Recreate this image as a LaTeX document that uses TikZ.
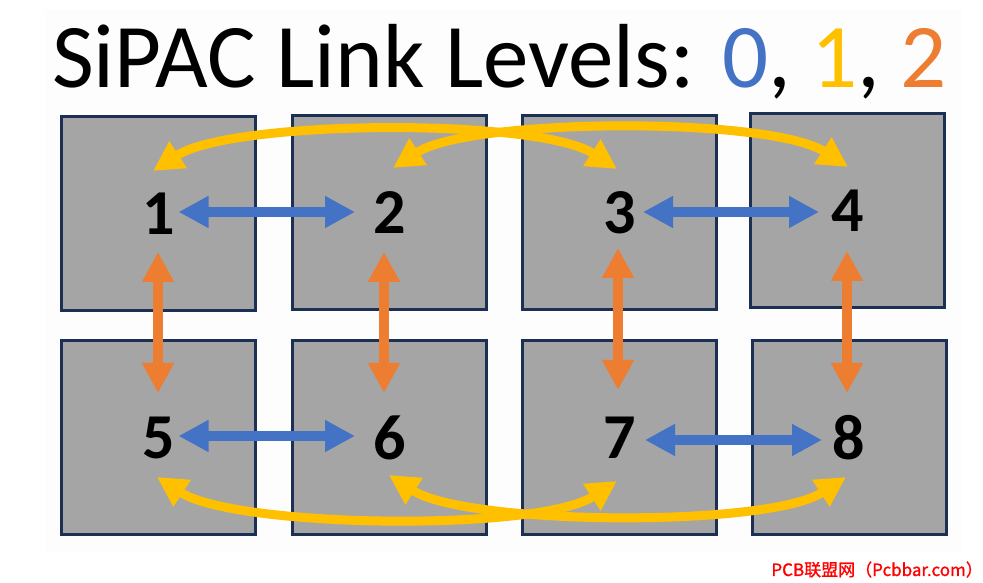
\documentclass[tikz,border=0pt]{standalone}
\usepackage{fontspec}
\setmainfont{Carlito}
\newfontfamily\cjkfont[FakeBold=1.2]{Noto Sans CJK SC}
\usetikzlibrary{arrows.meta}
\definecolor{lvlzero}{HTML}{4472C4}
\definecolor{lvlone}{HTML}{FFC000}
\definecolor{lvltwo}{HTML}{ED7D31}
\definecolor{chipedge}{HTML}{1C2F55}
\definecolor{chipfill}{HTML}{A5A5A5}
\definecolor{slidebg}{HTML}{FDFDFD}

\begin{document}
\begin{tikzpicture}[
  x=1pt,y=1pt,
  >={Triangle[length=30pt,width=30pt]},
  chip/.style={draw=chipedge, line width=3pt, fill=chipfill, minimum width=194pt, minimum height=194pt, inner sep=0pt, font=\fontsize{64}{64}\selectfont\bfseries},
  link0/.style={<->, draw=lvlzero, line width=10pt},
  link1/.style={<->, draw=lvlone, line width=9pt},
  link2/.style={<->, draw=lvltwo, line width=10pt},
  title/.style={font=\fontsize{91}{91}\selectfont, anchor=base west, inner sep=0pt},
  wmark/.style={font=\cjkfont\fontsize{17}{17}\selectfont, text=red, anchor=base east, inner sep=0pt}
]
\useasboundingbox (0,0) rectangle (983,583);
\fill[slidebg] (45,30) rectangle (962,573);

% Title
\node[title] (head) at (52,495)
  {SiPAC Link Levels: \textcolor{lvlzero}{0}, \textcolor{lvlone}{1}, \textcolor{lvltwo}{2}};

% ================= chips =================
\node[chip] (b1) at (158.5,369) {1};
\node[chip] (b2) at (389.5,370) {2};
\node[chip] (b3) at (619.5,370.5) {3};
\node[chip] (b4) at (847.5,372.5) {4};
\node[chip] (b5) at (158.5,145) {5};
\node[chip] (b6) at (389.5,145) {6};
\node[chip] (b7) at (619.5,145) {7};
\node[chip] (b8) at (849,145) {8};

% ================= level 0 =================
\draw[link0] ([xshift=20pt,yshift=2pt]b1.center) -- ([xshift=-34.5pt,yshift=1pt]b2.center);
\draw[link0] ([xshift=23.5pt,yshift=0.5pt]b3.center) -- ([xshift=-28.5pt,yshift=-1.5pt]b4.center);
\draw[link0] ([xshift=20pt,yshift=2pt]b5.center) -- ([xshift=-34.5pt,yshift=2pt]b6.center);
\draw[link0] ([xshift=25.5pt,yshift=-2pt]b7.center) -- ([xshift=-27pt,yshift=-2pt]b8.center);

% ================= level 2 =================
\draw[link2] ([xshift=-0.5pt,yshift=-38pt]b1.center) -- ([xshift=-0.5pt,yshift=45pt]b5.center);
\draw[link2] ([xshift=-5.5pt,yshift=-39pt]b2.center) -- ([xshift=-5.5pt,yshift=45pt]b6.center);
\draw[link2] ([xshift=-1.5pt,yshift=-35.5pt]b3.center) -- ([xshift=-1.5pt,yshift=48pt]b7.center);
\draw[link2] ([xshift=-0.5pt,yshift=-40.5pt]b4.center) -- ([xshift=-2pt,yshift=45pt]b8.center);

% ================= level 1 =================
\draw[link1] ([xshift=-5.5pt,yshift=43pt]b1.center) to[out=33,in=147,looseness=0.52] ([xshift=-2.5pt,yshift=43.5pt]b3.center);
\draw[link1] ([xshift=3.5pt,yshift=45pt]b2.center) to[out=33,in=147,looseness=0.52] ([xshift=0.5pt,yshift=43.5pt]b4.center);
\draw[link1] ([xshift=-1.5pt,yshift=-39pt]b5.center) to[out=-33,in=-147,looseness=0.52] ([xshift=-2.5pt,yshift=-43pt]b7.center);
\draw[link1] ([xshift=-0.5pt,yshift=-37pt]b6.center) to[out=-33,in=-147,looseness=0.52] ([xshift=-3pt,yshift=-39pt]b8.center);

% watermark
\node[wmark] (wm) at (983,7) {PCB联盟网（Pcbbar.com）};
\end{tikzpicture}
\end{document}
